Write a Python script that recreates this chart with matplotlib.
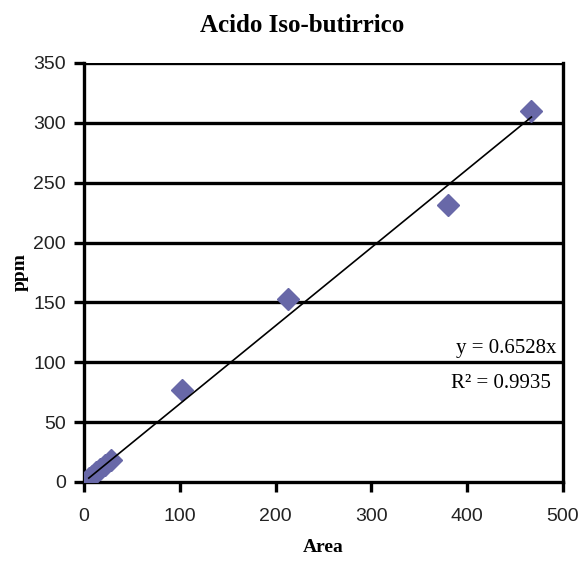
import numpy as np
import matplotlib.pyplot as plt

# data
area = [5, 8, 12, 17, 22, 28, 102, 213, 380, 467]
ppm = [3, 5, 8, 11, 14, 18, 77, 153, 231, 310]
slope = 0.6528
r2 = 0.9935

fig = plt.figure(figsize=(5.85, 5.64), dpi=100)
ax = fig.add_axes([0.1436, 0.1454, 0.8188, 0.7429])

# gridlines
for yv in range(50, 351, 50):
  ax.axhline(yv, color='black', lw=2.4, zorder=1)

ax.plot(area, ppm, 'D', color='#6868A8', markersize=11, zorder=3)
xf = np.array([min(area), max(area)])
ax.plot(xf, slope * xf, color='black', lw=1.2, zorder=4)

ax.set_xlim(0, 500)
ax.set_ylim(0, 350)
ax.set_xticks(range(0, 501, 100))
ax.set_yticks(range(0, 351, 50))
for s in ['left', 'bottom', 'right']:
  ax.spines[s].set_linewidth(2.4)
ax.spines['top'].set_visible(False)
ax.tick_params(direction='out', length=7, width=2.4, labelsize=14)
ax.tick_params(axis='x', pad=12)
ax.tick_params(axis='y', pad=6)
for lab in ax.get_xticklabels() + ax.get_yticklabels():
  lab.set_fontfamily('Liberation Sans')
  lab.set_color('#222222')

serif = 'Liberation Serif'
fig.text(0.516, 0.955, 'Acido Iso-butirrico', ha='center', va='center',
         fontfamily=serif, fontweight='bold', fontsize=18)
ax.set_xlabel('Area', fontfamily=serif, fontweight='bold', fontsize=14, labelpad=10)
ax.set_ylabel('ppm', fontfamily=serif, fontweight='bold', fontsize=14, labelpad=3)

ax.text(0.987, 0.295, 'y = 0.6528x', transform=ax.transAxes, ha='right', va='bottom',
        fontfamily=serif, fontsize=15)
ax.text(0.975, 0.236, 'R² = 0.9935', transform=ax.transAxes, ha='right', va='center',
        fontfamily=serif, fontsize=15)

fig.savefig('out.png', dpi=100)
